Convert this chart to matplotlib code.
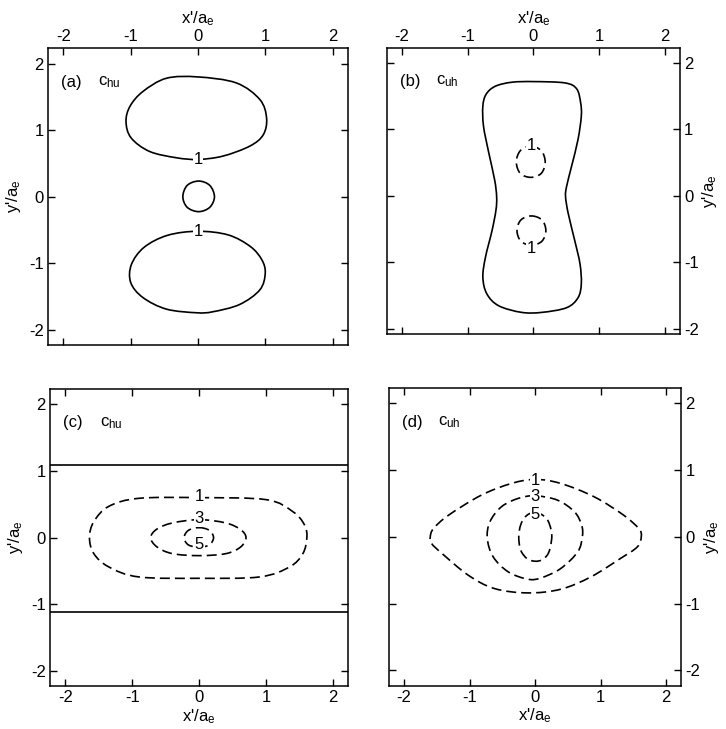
import matplotlib
matplotlib.use("Agg")
import matplotlib.pyplot as plt
from matplotlib.path import Path
from matplotlib.patches import PathPatch
import numpy as np

plt.rcParams["font.family"] = ["Liberation Sans", "DejaVu Sans"]
plt.rcParams["mathtext.default"] = "regular"
plt.rcParams["axes.unicode_minus"] = False
plt.rcParams["font.size"] = 12

# contour outlines (x'/a_e, y'/a_e), traced clockwise from the top
# (a) c_hu, level 1
a_top = [(0.0, 1.80), (0.57, 1.71), (0.92, 1.46), (1.02, 1.18), (0.97, 0.93),
         (0.77, 0.76), (0.37, 0.61), (0.0, 0.56), (-0.32, 0.585), (-0.72, 0.68),
         (-0.995, 0.885), (-1.07, 1.13), (-1.01, 1.36), (-0.82, 1.58), (-0.47, 1.78)]
a_bot = [(0.0, -0.52), (0.45, -0.575), (0.78, -0.75), (0.95, -0.95), (1.0, -1.15),
         (0.92, -1.40), (0.62, -1.62), (0.22, -1.73), (-0.02, -1.745), (-0.47, -1.69),
         (-0.82, -1.515), (-1.0, -1.29), (-0.99, -1.02), (-0.80, -0.76), (-0.45, -0.58)]
a_mid = [(0.01, 0.235), (0.175, 0.17), (0.245, 0.0), (0.175, -0.16), (0.01, -0.225),
         (-0.16, -0.16), (-0.225, 0.0), (-0.16, 0.17)]

# (b) c_uh, level 1 (solid) and level -1 pockets (dashed)
b_outer = [(0.0, 1.72), (0.48, 1.70), (0.66, 1.61), (0.72, 1.40), (0.73, 1.20),
           (0.68, 0.85), (0.58, 0.44), (0.505, 0.14), (0.49, -0.01), (0.53, -0.26),
           (0.63, -0.67), (0.71, -1.02), (0.73, -1.32), (0.68, -1.53), (0.505, -1.68),
           (0.13, -1.75), (-0.18, -1.75), (-0.53, -1.65), (-0.71, -1.47), (-0.77, -1.22),
           (-0.73, -0.92), (-0.63, -0.52), (-0.57, -0.21), (-0.56, -0.01), (-0.59, 0.24),
           (-0.68, 0.65), (-0.76, 1.05), (-0.77, 1.35), (-0.72, 1.53), (-0.58, 1.65),
           (-0.33, 1.71)]
b_up = [(-0.04, 0.75), (0.12, 0.68), (0.18, 0.51), (0.12, 0.34), (-0.04, 0.28),
        (-0.2, 0.34), (-0.26, 0.51), (-0.2, 0.68)]
b_dn = [(-0.03, -0.30), (0.13, -0.36), (0.19, -0.52), (0.13, -0.68), (-0.03, -0.74),
        (-0.19, -0.68), (-0.25, -0.52), (-0.19, -0.36)]

# (c) c_hu
c_lines = [1.09, -1.11]
c_1 = [(0.0, 0.60), (1.0, 0.57), (1.4, 0.39), (1.575, 0.19), (1.61, 0.0), (1.55, -0.24),
       (1.35, -0.44), (0.9, -0.59), (0.0, -0.61), (-0.9, -0.59), (-1.35, -0.44),
       (-1.575, -0.24), (-1.64, 0.0), (-1.575, 0.24), (-1.35, 0.47), (-0.9, 0.59)]
c_3 = [(0.0, 0.27), (0.4, 0.22), (0.62, 0.12), (0.70, 0.0), (0.62, -0.14), (0.4, -0.24),
       (0.0, -0.27), (-0.4, -0.24), (-0.63, -0.14), (-0.725, 0.0), (-0.63, 0.13), (-0.4, 0.22)]
c_5 = [(0.0, 0.15), (0.15, 0.11), (0.215, 0.0), (0.15, -0.11), (0.0, -0.14),
       (-0.16, -0.11), (-0.225, 0.0), (-0.16, 0.11)]

# (d) c_uh
d_1 = [(0.0, 0.86), (0.39, 0.80), (0.90, 0.60), (1.35, 0.325), (1.58, 0.125), (1.62, 0.01),
       (1.56, -0.15), (1.30, -0.325), (0.85, -0.60), (0.39, -0.785), (-0.11, -0.84),
       (-0.62, -0.775), (-1.02, -0.575), (-1.42, -0.25), (-1.58, -0.10), (-1.60, 0.0),
       (-1.55, 0.125), (-1.32, 0.325), (-0.82, 0.625), (-0.36, 0.80)]
d_3 = [(0.0, 0.615), (0.34, 0.55), (0.6, 0.375), (0.71, 0.175), (0.72, 0.0), (0.65, -0.225),
       (0.39, -0.475), (0.09, -0.615), (-0.11, -0.635), (-0.41, -0.525), (-0.64, -0.30),
       (-0.73, -0.025), (-0.69, 0.225), (-0.515, 0.45), (-0.26, 0.575)]
d_5 = [(0.0, 0.37), (0.17, 0.28), (0.245, 0.10), (0.25, -0.05), (0.2, -0.25), (0.1, -0.345),
       (0.0, -0.365), (-0.12, -0.33), (-0.22, -0.2), (-0.25, 0.0), (-0.22, 0.18), (-0.14, 0.31)]

# contour labels: (x, y, text)
a_labels = [(0.0, 0.56, "1"), (0.0, -0.52, "1")]
b_labels = [(-0.03, 0.765, "1"), (-0.03, -0.785, "1")]
c_labels = [(0.0, 0.61, "1"), (0.0, 0.28, "3"), (0.0, -0.10, "5")]
d_labels = [(0.0, 0.85, "1"), (0.0, 0.61, "3"), (0.0, 0.33, "5")]

ticks = [-2, -1, 0, 1, 2]


def closed_curve(ax, pts, dashed=False):
    # smooth closed curve through the points (Catmull-Rom as cubic Bezier)
    p = np.asarray(pts, float)
    n = len(p)
    verts = [p[0]]
    codes = [Path.MOVETO]
    for i in range(n):
        p0, p1, p2, p3 = p[i - 1], p[i], p[(i + 1) % n], p[(i + 2) % n]
        verts += [p1 + (p2 - p0) / 6, p2 - (p3 - p1) / 6, p2]
        codes += [Path.CURVE4] * 3
    ls = (0, (6, 3)) if dashed else "-"
    ax.add_patch(PathPatch(Path(verts, codes), fill=False, lw=1.2, ls=ls,
                           ec="black", capstyle="butt"))


def label(ax, items):
    for x, y, s in items:
        ax.text(x, y, s, ha="center", va="center", fontsize=12, zorder=5,
                bbox=dict(boxstyle="square,pad=0.05", fc="white", ec="none"))


def setup(ax, letter, sub, top, right, ylim=(-2.23, 2.23)):
    ax.set_xlim(-2.23, 2.23)
    ax.set_ylim(*ylim)
    ax.set_xticks(ticks)
    ax.set_yticks(ticks)
    ax.tick_params(direction="in", length=5, width=1, top=True, right=True,
                   labeltop=top, labelbottom=not top, labelleft=not right,
                   labelright=right, pad=3, labelsize=12)
    for s in ax.spines.values():
        s.set_linewidth(1.1)
    if top:
        ax.xaxis.set_label_position("top")
    if right:
        ax.yaxis.set_label_position("right")
    ax.set_xlabel("x'/a$_e$", fontsize=12, labelpad=4 if top else 1)
    ax.set_ylabel("y'/a$_e$", fontsize=12, labelpad=1 if right else 4)
    ax.text(-2.03, 1.72, letter, ha="left", va="center", fontsize=12)
    ax.text(-1.48, 1.72, "c$_{" + sub + "}$", ha="left", va="center", fontsize=12)


fig = plt.figure(figsize=(7.26, 7.29), dpi=100)
ax_a = fig.add_axes([0.0661, 0.5267, 0.4132, 0.4070])
ax_b = fig.add_axes([0.5331, 0.5414, 0.4032, 0.3923])
ax_c = fig.add_axes([0.0689, 0.0586, 0.4109, 0.4078])
ax_d = fig.add_axes([0.5358, 0.0594, 0.4026, 0.4084])

setup(ax_a, "(a)", "hu", top=True, right=False)
for pts in (a_top, a_bot, a_mid):
    closed_curve(ax_a, pts)
label(ax_a, a_labels)

setup(ax_b, "(b)", "uh", top=True, right=True, ylim=(-2.08, 2.22))
closed_curve(ax_b, b_outer)
closed_curve(ax_b, b_up, dashed=True)
closed_curve(ax_b, b_dn, dashed=True)
label(ax_b, b_labels)

setup(ax_c, "(c)", "hu", top=False, right=False)
for yv in c_lines:
    ax_c.axhline(yv, color="black", lw=1.2)
for pts in (c_1, c_3, c_5):
    closed_curve(ax_c, pts, dashed=True)
label(ax_c, c_labels)

setup(ax_d, "(d)", "uh", top=False, right=True)
for pts in (d_1, d_3, d_5):
    closed_curve(ax_d, pts, dashed=True)
label(ax_d, d_labels)

fig.savefig("out.png", dpi=100)
